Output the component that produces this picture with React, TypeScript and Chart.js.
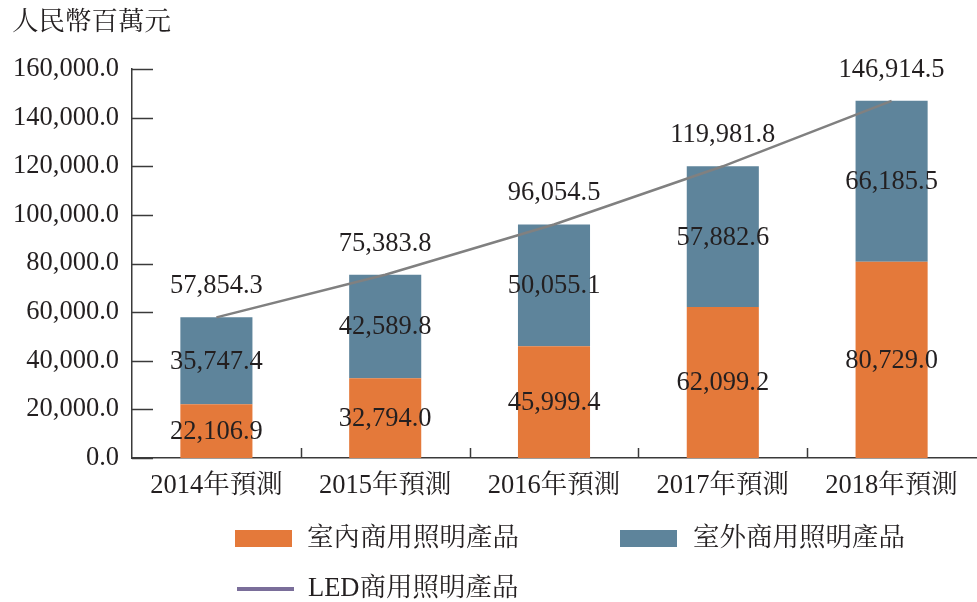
import React, { useEffect, useRef } from "react";
import { Chart, registerables } from "chart.js";

Chart.register(...registerables);

const categories = ["2014年預測", "2015年預測", "2016年預測", "2017年預測", "2018年預測"];
const indoorValues = [22106.9, 32794.0, 45999.4, 62099.2, 80729.0];
const outdoorValues = [35747.4, 42589.8, 50055.1, 57882.6, 66185.5];
const totalValues = [57854.3, 75383.8, 96054.5, 119981.8, 146914.5];
const seriesNames = ["室內商用照明產品", "室外商用照明產品", "LED商用照明產品"];
const unitTitle = "人民幣百萬元";

const ORANGE = "#E4793A";
const BLUE = "#5E849B";
const LINE_GREY = "#808080";
const LEGEND_PURPLE = "#7A6E9A";
const TEXT = "#231F20";
const AXIS = "#3A3A3A";
const FAMILY = '"Liberation Serif", "Noto Serif CJK TC", "Noto Sans CJK TC", serif';
const SIZE = 26.5;
const FONT = `${SIZE}px ${FAMILY}`;

const fmt = (v: number) =>
  v.toLocaleString("en-US", { minimumFractionDigits: 1, maximumFractionDigits: 1 });

const decorPlugin = {
  id: "decor",
  afterDatasetsDraw(chart: any) {
    const ctx = chart.ctx as CanvasRenderingContext2D;
    const yScale = chart.scales.y;
    const xScale = chart.scales.x;
    const area = chart.chartArea;
    ctx.save();
    // inward ticks on y axis
    ctx.strokeStyle = AXIS;
    ctx.lineWidth = 1.5;
    yScale.ticks.forEach((t: any) => {
      const y = Math.round(yScale.getPixelForValue(t.value)) + 0.5;
      ctx.beginPath();
      ctx.moveTo(area.left, y);
      ctx.lineTo(area.left + 21, y);
      ctx.stroke();
    });
    // category boundary ticks on x axis
    for (let i = 1; i < categories.length; i++) {
      const x = Math.round((xScale.getPixelForTick(i - 1) + xScale.getPixelForTick(i)) / 2) + 0.5;
      ctx.beginPath();
      ctx.moveTo(x, area.bottom);
      ctx.lineTo(x, area.bottom - 10);
      ctx.stroke();
    }
    // value labels
    ctx.font = FONT;
    ctx.fillStyle = TEXT;
    ctx.textAlign = "center";
    ctx.textBaseline = "middle";
    const barSets = [indoorValues, outdoorValues];
    [1, 2].forEach((di, k) => {
      const meta = chart.getDatasetMeta(di);
      meta.data.forEach((bar: any, i: number) => {
        const p = bar.getProps(["x", "y", "base"], true);
        ctx.fillText(fmt(barSets[k][i]), p.x, (p.y + p.base) / 2 + 1);
      });
    });
    const lineMeta = chart.getDatasetMeta(0);
    lineMeta.data.forEach((pt: any, i: number) => {
      ctx.fillText(fmt(totalValues[i]), pt.x, pt.y - 31);
    });
    ctx.restore();
  },
  afterDraw(chart: any) {
    const ctx = chart.ctx as CanvasRenderingContext2D;
    ctx.save();
    ctx.font = FONT;
    ctx.fillStyle = TEXT;
    ctx.textAlign = "left";
    ctx.textBaseline = "middle";
    ctx.fillText(unitTitle, 12, 23);
    // legend
    ctx.fillStyle = ORANGE;
    ctx.fillRect(235, 530, 57, 17);
    ctx.fillStyle = BLUE;
    ctx.fillRect(620, 530, 57, 17);
    ctx.strokeStyle = LEGEND_PURPLE;
    ctx.lineWidth = 4;
    ctx.beginPath();
    ctx.moveTo(237, 589);
    ctx.lineTo(294, 589);
    ctx.stroke();
    ctx.fillStyle = TEXT;
    ctx.fillText(seriesNames[0], 307, 539);
    ctx.fillText(seriesNames[1], 693, 539);
    ctx.fillText(seriesNames[2], 308, 589);
    ctx.restore();
  },
};

export default function App() {
  const ref = useRef<HTMLCanvasElement>(null);
  useEffect(() => {
    if (!ref.current) return;
    const chart = new Chart(ref.current, {
      type: "bar",
      data: {
        labels: categories,
        datasets: [
          {
            type: "line",
            label: seriesNames[2],
            data: totalValues,
            borderColor: LINE_GREY,
            borderWidth: 2.5,
            pointRadius: 0,
            fill: false,
            order: 0,
          } as any,
          {
            label: seriesNames[0],
            data: indoorValues,
            backgroundColor: ORANGE,
            stack: "s",
            order: 1,
          },
          {
            label: seriesNames[1],
            data: outdoorValues,
            backgroundColor: BLUE,
            stack: "s",
            order: 1,
          },
        ],
      },
      options: {
        responsive: false,
        animation: false,
        layout: { padding: { top: 69, right: 1, left: 0, bottom: 0 } },
        plugins: { legend: { display: false }, tooltip: { enabled: false } },
        datasets: { bar: { categoryPercentage: 1, barPercentage: 0.427 } } as any,
        scales: {
          x: {
            stacked: true,
            grid: { display: false },
            border: { display: true, color: AXIS, width: 1.5 },
            ticks: { color: TEXT, font: { family: FAMILY, size: SIZE }, padding: 4, maxRotation: 0 },
            afterFit: (s: any) => { s.height = 144; },
          },
          y: {
            stacked: true,
            min: 0,
            max: 160000,
            grid: { display: false },
            border: { display: true, color: AXIS, width: 1.5 },
            ticks: {
              stepSize: 20000,
              color: TEXT,
              font: { family: FAMILY, size: SIZE },
              padding: 5,
              callback: (v: any) => fmt(Number(v)),
            },
            afterFit: (s: any) => { s.width = 132; },
          },
        },
      } as any,
      plugins: [decorPlugin],
    });
    return () => chart.destroy();
  }, []);
  return (
    <div style={{ position: "absolute", left: 0, top: 0, width: 977, height: 602, background: "#fff" }}>
      <canvas ref={ref} width={977} height={602} />
    </div>
  );
}
